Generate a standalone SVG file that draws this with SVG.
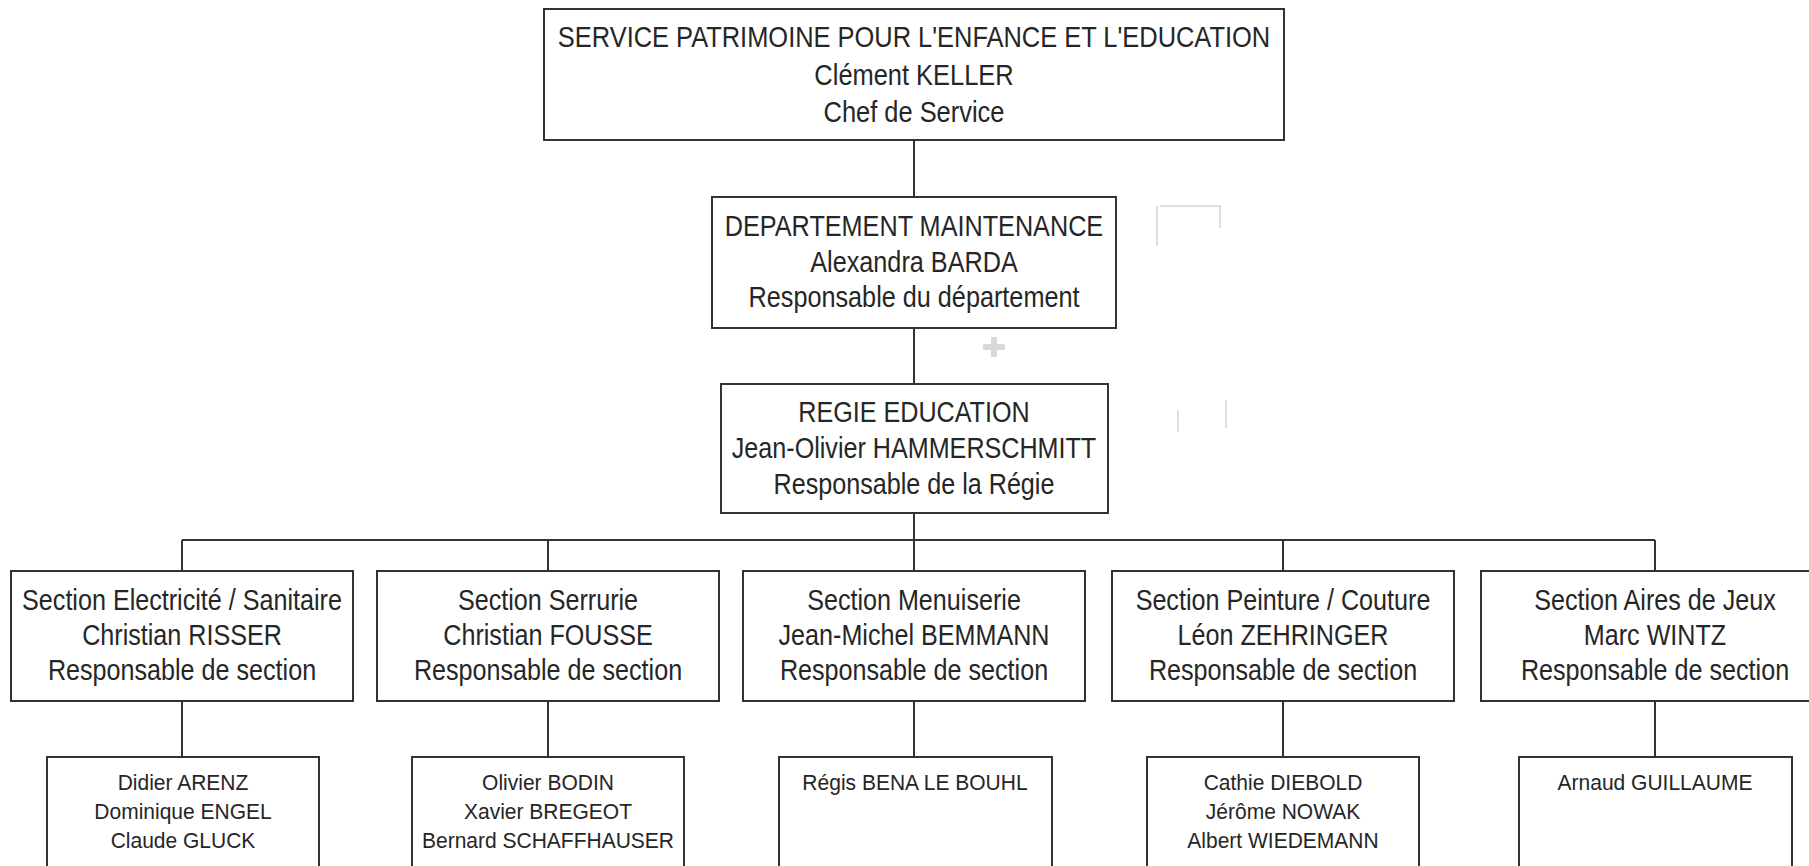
<svg xmlns="http://www.w3.org/2000/svg" width="1809" height="866" viewBox="0 0 1809 866">
  <style>
    .box { fill: #ffffff; stroke: #333333; stroke-width: 2; }
    .wire { fill: none; stroke: #333333; stroke-width: 2; }
    text { font-family: "Liberation Sans", Arial, sans-serif; fill: #262626; text-anchor: middle; }
    .big { font-size: 29px; }
    .small { font-size: 22px; }
    .speck { fill: none; stroke: #d4d4d4; stroke-width: 1.5; }
  </style>
  <rect width="1809" height="866" fill="#ffffff"/>

  <!-- connectors -->
  <g id="connectors">
    <path class="wire" d="M914 140V197 M914 328V384 M914 513V571 M182 540H1655 M182 540V571 M548 540V571 M1283 540V571 M1655 540V571"/>
    <path class="wire" d="M182 701V757 M548 701V757 M914 701V757 M1283 701V757 M1655 701V757"/>
  </g>

  <!-- head of service -->
  <g id="service">
    <rect class="box" x="544" y="9" width="740" height="131"/>
    <g class="big" transform="translate(914 0) scale(0.877 1)">
      <text x="0" y="47">SERVICE PATRIMOINE POUR L'ENFANCE ET L'EDUCATION</text>
      <text x="0" y="85">Clément KELLER</text>
      <text x="0" y="122">Chef de Service</text>
    </g>
  </g>

  <!-- maintenance department -->
  <g id="departement">
    <rect class="box" x="712" y="197" width="404" height="131"/>
    <g class="big" transform="translate(914 0) scale(0.87 1)">
      <text x="0" y="236">DEPARTEMENT MAINTENANCE</text>
      <text x="0" y="272">Alexandra BARDA</text>
      <text x="0" y="307">Responsable du département</text>
    </g>
  </g>

  <!-- faint scanner marks beside the department box -->
  <g id="marks">
    <path d="M994 337V357 M983 347H1005" fill="none" stroke="#d9d9d9" stroke-width="6"/>
    <path class="speck" d="M1157 206V246 M1160 206H1220V228 M1178 410V432 M1226 400V428"/>
  </g>

  <!-- education works unit -->
  <g id="regie">
    <rect class="box" x="721" y="384" width="387" height="129"/>
    <g class="big" transform="translate(914 0) scale(0.867 1)">
      <text x="0" y="422">REGIE EDUCATION</text>
      <text x="0" y="458">Jean-Olivier HAMMERSCHMITT</text>
      <text x="0" y="494">Responsable de la Régie</text>
    </g>
  </g>

  <!-- sections -->
  <g id="section-electricite">
    <rect class="box" x="11" y="571" width="342" height="130"/>
    <g class="big" transform="translate(182 0) scale(0.867 1)">
      <text x="0" y="610">Section Electricité / Sanitaire</text>
      <text x="0" y="645">Christian RISSER</text>
      <text x="0" y="680">Responsable de section</text>
    </g>
  </g>
  <g id="section-serrurie">
    <rect class="box" x="377" y="571" width="342" height="130"/>
    <g class="big" transform="translate(548 0) scale(0.867 1)">
      <text x="0" y="610">Section Serrurie</text>
      <text x="0" y="645">Christian FOUSSE</text>
      <text x="0" y="680">Responsable de section</text>
    </g>
  </g>
  <g id="section-menuiserie">
    <rect class="box" x="743" y="571" width="342" height="130"/>
    <g class="big" transform="translate(914 0) scale(0.867 1)">
      <text x="0" y="610">Section Menuiserie</text>
      <text x="0" y="645">Jean-Michel BEMMANN</text>
      <text x="0" y="680">Responsable de section</text>
    </g>
  </g>
  <g id="section-peinture">
    <rect class="box" x="1112" y="571" width="342" height="130"/>
    <g class="big" transform="translate(1283 0) scale(0.867 1)">
      <text x="0" y="610">Section Peinture / Couture</text>
      <text x="0" y="645">Léon ZEHRINGER</text>
      <text x="0" y="680">Responsable de section</text>
    </g>
  </g>
  <g id="section-aires">
    <rect class="box" x="1481" y="571" width="348" height="130"/>
    <g class="big" transform="translate(1655 0) scale(0.867 1)">
      <text x="0" y="610">Section Aires de Jeux</text>
      <text x="0" y="645">Marc WINTZ</text>
      <text x="0" y="680">Responsable de section</text>
    </g>
  </g>

  <!-- team members -->
  <g id="equipe-electricite">
    <rect class="box" x="47" y="757" width="272" height="130"/>
    <g class="small" transform="translate(183 0) scale(0.955 1)">
      <text x="0" y="790">Didier ARENZ</text>
      <text x="0" y="819">Dominique ENGEL</text>
      <text x="0" y="848">Claude GLUCK</text>
    </g>
  </g>
  <g id="equipe-serrurie">
    <rect class="box" x="412" y="757" width="272" height="130"/>
    <g class="small" transform="translate(548 0) scale(0.955 1)">
      <text x="0" y="790">Olivier BODIN</text>
      <text x="0" y="819">Xavier BREGEOT</text>
      <text x="0" y="848">Bernard SCHAFFHAUSER</text>
    </g>
  </g>
  <g id="equipe-menuiserie">
    <rect class="box" x="779" y="757" width="273" height="130"/>
    <g class="small" transform="translate(915 0) scale(0.955 1)">
      <text x="0" y="790">Régis BENA LE BOUHL</text>
    </g>
  </g>
  <g id="equipe-peinture">
    <rect class="box" x="1147" y="757" width="272" height="130"/>
    <g class="small" transform="translate(1283 0) scale(0.955 1)">
      <text x="0" y="790">Cathie DIEBOLD</text>
      <text x="0" y="819">Jérôme NOWAK</text>
      <text x="0" y="848">Albert WIEDEMANN</text>
    </g>
  </g>
  <g id="equipe-aires">
    <rect class="box" x="1519" y="757" width="273" height="130"/>
    <g class="small" transform="translate(1655 0) scale(0.955 1)">
      <text x="0" y="790">Arnaud GUILLAUME</text>
    </g>
  </g>
</svg>
